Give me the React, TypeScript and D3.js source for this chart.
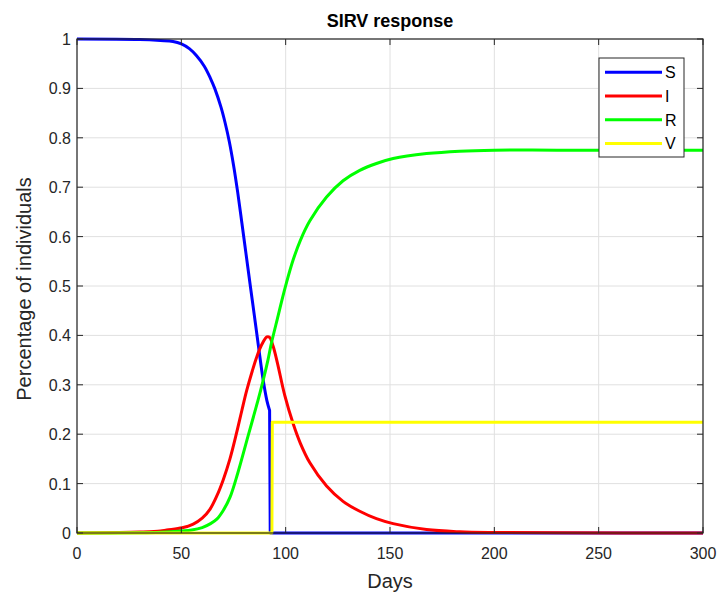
import React from "react";
import * as d3 from "d3";

const width = 721;
const height = 595;
const margin = { top: 39, right: 18, bottom: 62, left: 77 };

// [day, fraction]
const susceptible: [number, number][] = [
  [0, 1], [30, 0.999], [40, 0.997], [46, 0.995], [50, 0.99], [54, 0.98],
  [57.3, 0.966], [61, 0.945], [64, 0.92], [66, 0.9], [69, 0.862], [71, 0.83],
  [73, 0.792], [75, 0.745], [77, 0.69], [79, 0.628], [81, 0.565], [83, 0.502],
  [85, 0.44], [87, 0.377], [89.2, 0.31], [91, 0.268], [92.3, 0.248],
];
const susceptibleAfter: [number, number][] = [
  [92.3, 0.248], [92.6, 0], [300, 0],
];
const infected: [number, number][] = [
  [0, 0], [20, 0.001], [30, 0.002], [40, 0.004], [43, 0.006], [50.4, 0.0105],
  [55.7, 0.018], [60, 0.03], [63.7, 0.048], [67, 0.075], [70.1, 0.108],
  [73.3, 0.15], [76.5, 0.203], [79, 0.248], [81.3, 0.288], [84, 0.328],
  [86.1, 0.356], [88.5, 0.381], [91, 0.397], [92.3, 0.396], [94, 0.378],
  [96, 0.345], [99.6, 0.278], [103.6, 0.221], [107, 0.182], [111.6, 0.142],
  [119.6, 0.095], [127.5, 0.064], [135.5, 0.044], [143.5, 0.029],
  [151.5, 0.019], [167.5, 0.007], [183.4, 0.0025], [200, 0.001],
  [230, 0.0003], [300, 0.0001],
];
const recovered: [number, number][] = [
  [0, 0], [30, 0.0005], [40, 0.0015], [50, 0.004], [55, 0.006], [60, 0.011],
  [64, 0.019], [67, 0.028], [70, 0.045], [73.3, 0.072], [77.1, 0.122],
  [81.9, 0.195], [86.7, 0.268], [89.1, 0.307], [91.5, 0.35], [93.1, 0.383],
  [96.4, 0.44], [98, 0.468], [100.4, 0.507], [103.6, 0.553], [107, 0.592],
  [111.6, 0.632], [119.6, 0.68], [127.5, 0.713], [135.5, 0.734],
  [143.5, 0.748], [151.5, 0.758], [167.5, 0.768], [183.4, 0.773],
  [200, 0.775], [230, 0.775], [300, 0.775],
];
const vaccinated: [number, number][] = [
  [0, 0], [93.4, 0], [93.6, 0.224], [300, 0.224],
];

const seriesNames = ["S", "I", "R", "V"];
const seriesColors = ["#0000ff", "#ff0000", "#00ff00", "#ffff00"];
const xTicks = [0, 50, 100, 150, 200, 250, 300];
const yTicks = [0, 0.1, 0.2, 0.3, 0.4, 0.5, 0.6, 0.7, 0.8, 0.9, 1];

const font = "'Liberation Sans', Arial, Helvetica, sans-serif";
const ink = "#262626";

const App = () => {
  const innerW = width - margin.left - margin.right;
  const innerH = height - margin.top - margin.bottom;
  const x = d3.scaleLinear().domain([0, 300]).range([margin.left, margin.left + innerW]);
  const y = d3.scaleLinear().domain([0, 1]).range([margin.top + innerH, margin.top]);

  const smooth = d3.line<[number, number]>()
    .x((d) => x(d[0]))
    .y((d) => y(d[1]))
    .curve(d3.curveCatmullRom.alpha(0.5));
  const straight = d3.line<[number, number]>()
    .x((d) => x(d[0]))
    .y((d) => y(d[1]));

  const paths = [
    (smooth(susceptible) || "") + (straight(susceptibleAfter) || "").replace(/^M/, "L"),
    smooth(infected) || "",
    smooth(recovered) || "",
    straight(vaccinated) || "",
  ];

  const x0 = margin.left;
  const x1 = margin.left + innerW;
  const y0 = margin.top + innerH;
  const y1 = margin.top;
  const tick = 6;

  const legend = { x: 599, y: 58, w: 85, h: 99 };

  return (
    <svg
      width={width}
      height={height}
      style={{ position: "absolute", left: 0, top: 0, background: "#fff" }}
      fontFamily={font}
    >
      <rect x={0} y={0} width={width} height={height} fill="#fff" />
      {/* grid */}
      <g stroke="#e0e0e0" strokeWidth={1}>
        {xTicks.map((t) => (
          <line key={"gx" + t} x1={x(t)} x2={x(t)} y1={y1} y2={y0} />
        ))}
        {yTicks.map((t) => (
          <line key={"gy" + t} x1={x0} x2={x1} y1={y(t)} y2={y(t)} />
        ))}
      </g>
      {/* curves */}
      {paths.map((p, i) => (
        <path
          key={seriesNames[i]}
          d={p}
          fill="none"
          stroke={seriesColors[i]}
          strokeWidth={3}
          strokeLinejoin="round"
        />
      ))}
      {/* axes box and ticks */}
      <rect x={x0} y={y1} width={innerW} height={innerH} fill="none" stroke={ink} strokeWidth={1.2} />
      <g stroke={ink} strokeWidth={1}>
        {xTicks.map((t) => (
          <g key={"tx" + t}>
            <line x1={x(t)} x2={x(t)} y1={y0} y2={y0 - tick} />
            <line x1={x(t)} x2={x(t)} y1={y1} y2={y1 + tick} />
          </g>
        ))}
        {yTicks.map((t) => (
          <g key={"ty" + t}>
            <line x1={x0} x2={x0 + tick} y1={y(t)} y2={y(t)} />
            <line x1={x1} x2={x1 - tick} y1={y(t)} y2={y(t)} />
          </g>
        ))}
      </g>
      <g fill={ink} fontSize={16}>
        {xTicks.map((t) => (
          <text key={"lx" + t} x={x(t)} y={y0 + 26} textAnchor="middle">
            {t}
          </text>
        ))}
        {yTicks.map((t) => (
          <text key={"ly" + t} x={x0 - 6} y={y(t) + 6} textAnchor="end">
            {d3.format("~g")(t)}
          </text>
        ))}
      </g>
      <text x={(x0 + x1) / 2} y={27} textAnchor="middle" fontSize={18} fontWeight="bold" fill="#000">
        SIRV response
      </text>
      <text x={(x0 + x1) / 2} y={588} textAnchor="middle" fontSize={20} fill={ink}>
        Days
      </text>
      <text
        transform={`translate(31, ${(y0 + y1) / 2 + 3}) rotate(-90)`}
        textAnchor="middle"
        fontSize={20}
        fill={ink}
      >
        Percentage of individuals
      </text>
      {/* legend */}
      <g>
        <rect x={legend.x} y={legend.y} width={legend.w} height={legend.h} fill="#fff" stroke={ink} strokeWidth={1} />
        {seriesNames.map((n, i) => {
          const ry = legend.y + 14.3 + i * 23.7;
          return (
            <g key={"lg" + n}>
              <line x1={605} x2={662} y1={ry} y2={ry} stroke={seriesColors[i]} strokeWidth={3} />
              <text x={665} y={ry + 6} fontSize={16} fill="#000">
                {n}
              </text>
            </g>
          );
        })}
      </g>
    </svg>
  );
};

export default App;
